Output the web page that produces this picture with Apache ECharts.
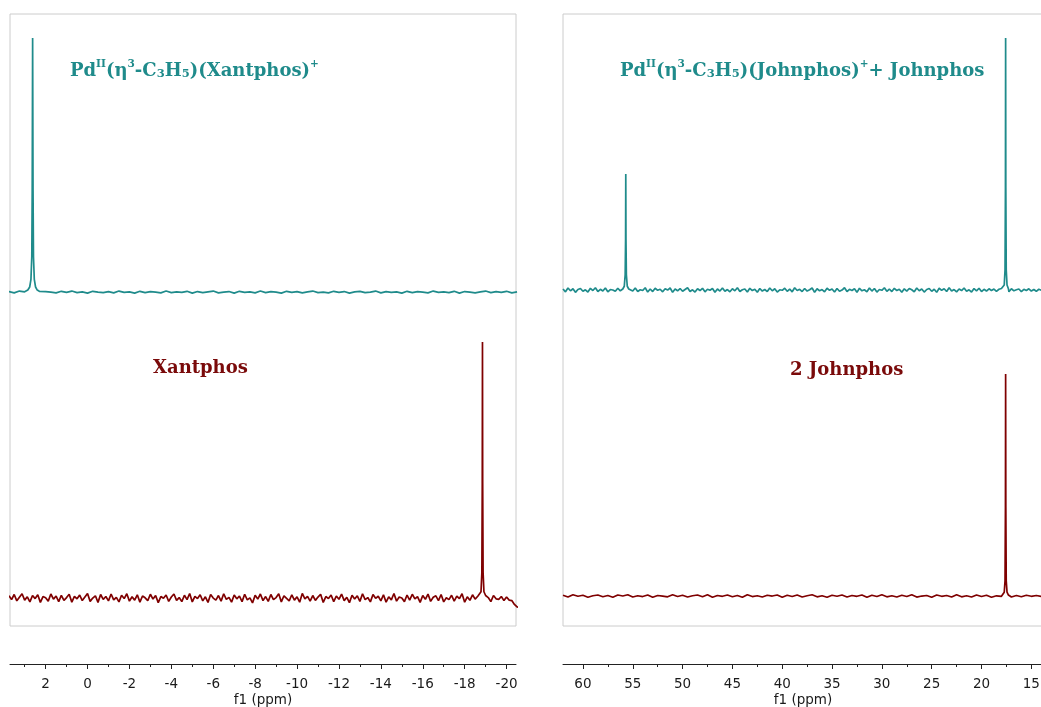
<!DOCTYPE html>
<html>
<head>
<meta charset="utf-8">
<script src="https://cdn.jsdelivr.net/npm/echarts@6/dist/echarts.min.js"></script>
<style>html,body{margin:0;padding:0;background:#fff}#c{width:1041px;height:707px}</style>
</head>
<body>
<div id="c"></div>
<script>
// ---------- data ----------
// left panel (Xantphos), ppm axis
const leftMajorTicks = [2, 0, -2, -4, -6, -8, -10, -12, -14, -16, -18, -20];
const leftMinorTicks = [3, 1, -1, -3, -5, -7, -9, -11, -13, -15, -17, -19];
// right panel (Johnphos), ppm axis
const rightMajorTicks = [60, 55, 50, 45, 40, 35, 30, 25, 20, 15];
const rightMinorTicks = [57.5, 52.5, 47.5, 42.5, 37.5, 32.5, 27.5, 22.5, 17.5];

// baseline sampling (ppm start) and read-off baseline noise values
const leftBaseStart = 3.75;
const rightBaseStart = 62.0;

const noiseTopLeft = [0.2,-0.3,0.4,0.1,-0.2,0.3,-0.4,0.2,0.0,-0.3,0.3,-0.1,0.4,-0.2,0.1,-0.4,0.3,0.0,-0.2,0.2,-0.3,0.4,-0.1,0.1,-0.4,0.3,-0.2,0.2,0.0,-0.3,0.4,-0.2,0.1,-0.1,0.3,-0.4,0.2,-0.2,0.1,0.4,-0.3,0.0,0.2,-0.4,0.3,-0.1,0.1,-0.3,0.4,-0.2,0.2,0.0,-0.4,0.3,-0.1,0.2,-0.3,0.1,0.4,-0.2,0.0,-0.3,0.3,-0.1,0.2,-0.4,0.1,0.3,-0.2,0.0,0.4,-0.3,0.2,-0.1,0.1,-0.4,0.3,-0.2,0.2,0.0,-0.3,0.4,-0.1,0.1,-0.2,0.3,-0.4,0.2,0.0,-0.3,0.1,0.4,-0.2,0.2,-0.1,0.3,-0.3,0.1];
const noiseBottomLeft = [0.9,-0.6,1.4,-1.1,0.3,1.7,-0.8,0.5,-1.5,1.0,-0.2,1.3,-1.7,0.6,0.1,-1.2,1.6,-0.4,0.8,-1.4,
1.1,-0.9,0.2,1.5,-1.6,0.7,-0.3,1.2,-1.0,0.4,1.8,-1.3,0.0,0.9,-1.7,1.4,-0.5,0.6,-1.1,1.6,
-0.7,0.3,-1.5,1.1,-0.2,1.7,-1.2,0.5,-0.8,1.3,-1.6,0.8,0.1,-1.0,1.5,-0.4,1.0,-1.8,0.6,-0.1,
1.2,-1.3,0.4,1.6,-0.9,0.2,-1.4,1.1,-0.6,1.8,-1.5,0.7,-0.2,1.3,-1.1,0.5,-1.7,1.4,0.0,-0.8,
1.0,-1.2,1.7,-0.5,0.3,-1.6,1.2,-0.3,0.8,-1.4,1.5,-0.7,0.1,-1.9,1.1,-0.4,1.6,-1.0,0.6,-1.3,
1.4,-0.6,0.2,1.7,-1.5,0.9,-0.1,-1.1,1.3,-0.8,0.5,-1.6,1.8,-0.3,0.7,-1.2,1.0,-0.9,0.4,1.5,
-1.7,0.6,-0.2,1.2,-1.4,0.8,-0.5,1.6,-1.0,0.3,-1.8,1.1,-0.4,0.9,-1.3,1.7,-0.6,0.2,-1.5,1.4,
-0.1,0.7,-1.1,1.3,-1.6,0.5,-0.7,1.8,-1.2,0.4,0.0,-1.4,1.2,-0.8,1.5,-0.3,0.6,-1.7,1.0,-0.5,
1.6,-1.3,0.3,0.9,-1.0,1.4,-1.5,0.1,-0.6,1.1,-1.2,0.8,-0.2,1.7,-1.6,0.5,-0.9,1.3,-0.4,0.7,
-1.1,1.5,-0.7,0.2,-1.4,1.0,-0.3,-0.5,0.6,-1.0,0.4,-0.8,-1.0,-2.5,-3.5,-3.6];
const noiseTopRight = [0.4,-0.7,0.8,-0.3,0.5,-0.9,0.2,0.6,-0.5,0.1,-0.8,0.7,-0.2,0.9,-0.6,0.3,-0.4,0.8,-0.7,0.2,
0.0,-0.5,0.7,-0.3,0.6,-0.9,0.3,0.5,-0.4,0.8,-0.6,0.1,-0.2,0.9,-0.8,0.4,-0.6,0.7,-0.1,0.3,
-0.7,0.5,0.0,0.8,-0.9,0.4,-0.3,0.6,-0.5,0.2,0.9,-0.6,0.1,-0.8,0.5,-0.2,0.7,-0.7,0.3,-0.1,
0.6,-0.9,0.4,-0.4,0.8,-0.5,0.2,-0.7,0.5,-0.3,0.9,-0.6,0.1,0.4,-0.8,0.7,-0.2,0.3,-0.9,0.6,
-0.4,0.2,-0.6,0.8,-0.3,0.5,-0.8,0.1,-0.1,0.7,-0.5,0.4,-0.7,0.9,-0.2,0.3,-0.6,0.6,-0.4,0.1,
0.8,-0.9,0.5,-0.3,0.2,-0.7,0.7,-0.1,0.4,-0.8,0.6,-0.5,0.0,0.9,-0.6,0.3,-0.2,0.5,-0.9,0.7,
-0.3,0.1,-0.7,0.8,-0.4,0.6,-0.8,0.2,-0.1,0.9,-0.5,0.4,-0.6,0.7,-0.2,0.3,-0.9,0.5,-0.4,0.6,
0.1,-0.7,0.8,-0.3,0.4,-0.8,0.2,0.6,-0.5,0.3,-0.9,0.7,-0.1,0.5,-0.6,0.9,-0.4,0.2,-0.7,0.4,
-0.2,0.8,-0.5,0.1,-0.8,0.6,-0.3,0.7,-0.6,0.3,-0.4,0.5,-0.2,0.4,-0.5,0.3,0.6,-0.4,0.2,-0.7,
0.5,-0.3,0.1,0.4,-0.6,0.3,-0.2,0.5,-0.4,0.2,-0.5,0.3,-0.1,0.4,-0.3,0.2,-0.4,0.1,0.3,-0.2];
const noiseBottomRight = [0.3,-0.4,0.5,-0.1,0.3,-0.5,0.1,0.4,-0.3,0.2,-0.5,0.4,0.0,0.5,-0.4,0.1,-0.2,0.4,-0.5,0.2,0.0,-0.3,0.5,-0.2,0.3,-0.4,0.1,0.4,-0.3,0.5,-0.5,0.2,-0.1,0.4,-0.3,0.2,-0.5,0.5,-0.2,0.1,-0.4,0.3,0.0,0.4,-0.5,0.3,-0.2,0.4,-0.4,0.1,0.5,-0.3,0.1,-0.5,0.3,-0.1,0.4,-0.4,0.2,-0.1,0.4,-0.5,0.3,-0.2,0.5,-0.3,0.1,-0.4,0.3,-0.2,0.5,-0.4,0.0,0.2,-0.5,0.4,-0.1,0.2,-0.4,0.5,-0.3,0.1,-0.4,0.4,-0.2,0.3,-0.5,0.1,-0.1,0.3,-0.4,0.2,-0.3,0.3,-0.1,0.2,-0.2,0.1];

// peaks [ppm, intensity]
const peakTopLeft = [[2.95,0.3],[2.85,0.8],[2.76,2],[2.70,5],[2.66,14],[2.64,40],[2.62,100],[2.60,40],[2.58,14],[2.54,5],[2.48,2],[2.40,0.8],[2.30,0.3]];
const peakBottomLeft = [[-18.70,0.8],[-18.78,2.5],[-18.82,10],[-18.84,45],[-18.85,100.8],[-18.86,45],[-18.88,10],[-18.92,2.5],[-19.00,1.0]];
const peakTopRight1 = [[56.0,0.4],[55.85,1.5],[55.76,6],[55.72,20],[55.70,45.7],[55.68,20],[55.64,6],[55.55,1.5],[55.4,0.4]];
const peakTopRight2 = [[17.9,0.5],[17.72,2],[17.64,8],[17.60,40],[17.58,99.2],[17.56,40],[17.52,8],[17.44,2],[17.3,0.5]];
const peakBottomRight = [[17.9,0.4],[17.72,1.5],[17.64,6],[17.60,35],[17.58,87.4],[17.56,35],[17.52,6],[17.44,1.5],[17.3,0.4]];

// ---------- build ----------
function buildTrace(start, step, noise, peaks) {
  const pts = [];
  noise.forEach((v, i) => {
    const x = +(start - i * step).toFixed(4);
    const inside = peaks.some(p => x <= p[0][0] && x >= p[p.length - 1][0]);
    if (!inside) pts.push([x, v]);
  });
  peaks.forEach(p => p.forEach(q => pts.push(q)));
  pts.sort((a, b) => b[0] - a[0]);
  return pts;
}
const trTL = buildTrace(leftBaseStart, 0.25, noiseTopLeft, [peakTopLeft]);
const trBL = buildTrace(leftBaseStart, 0.125, noiseBottomLeft, [peakBottomLeft]);
const trTR = buildTrace(rightBaseStart, 0.25, noiseTopRight, [peakTopRight1, peakTopRight2]);
const trBR = buildTrace(rightBaseStart, 0.5, noiseBottomRight, [peakBottomRight]);

const TEAL = '#1f8b8b';
const RED = '#7f0000';
const LMIN = -20.45, LMAX = 3.70;
const RMIN = 13.83, RMAX = 62.0;

const axisFont = {fontFamily: 'DejaVu Sans', fontSize: 13.5, color: '#1a1a1a'};
function visAxis(grid, min, max, major) {
  return {
    gridIndex: grid, type: 'value', min: min, max: max, inverse: true,
    position: 'bottom',
    axisLine: {show: true, onZero: false, lineStyle: {color: '#222', width: 1}},
    axisTick: {show: true, length: 5, customValues: major, lineStyle: {color: '#222'}},
    axisLabel: Object.assign({show: true, margin: 13, customValues: major}, axisFont),
    splitLine: {show: false},
    name: 'f1 (ppm)', nameLocation: 'middle', nameGap: 29,
    nameTextStyle: {fontFamily: 'DejaVu Sans', fontSize: 13.5, color: '#1a1a1a'}
  };
}
function minorAxis(grid, min, max, minor) {
  return {
    gridIndex: grid, type: 'value', min: min, max: max, inverse: true,
    position: 'bottom',
    axisLine: {show: false, onZero: false},
    axisTick: {show: true, length: 3, customValues: minor, lineStyle: {color: '#222'}},
    axisLabel: {show: false},
    splitLine: {show: false}
  };
}
function hiddenX(grid, min, max) {
  return {gridIndex: grid, type: 'value', min: min, max: max, inverse: true, show: false};
}
function hiddenY(grid, min, max) {
  return {gridIndex: grid, type: 'value', min: min, max: max, show: false};
}
function line(xi, yi, data, color) {
  return {type: 'line', xAxisIndex: xi, yAxisIndex: yi, data: data, showSymbol: false,
    symbol: 'none', lineStyle: {color: color, width: 1.7}, silent: true, z: 3};
}
function g(left, top, width, height, extra) {
  return Object.assign({left: left, top: top, width: width, height: height, outerBoundsMode: 'none', containLabel: false}, extra || {});
}

const serif = '"DejaVu Serif",serif';
function rich(col) {
  return {
    b: {fontFamily: serif, fontWeight: 'bold', fontSize: 18, fill: col, lineHeight: 26, verticalAlign: 'bottom'},
    sup: {fontFamily: serif, fontWeight: 'bold', fontSize: 10.5, fill: col, lineHeight: 26, verticalAlign: 'top', padding: [5, 0, 0, 0]},
    sub: {fontFamily: serif, fontWeight: 'bold', fontSize: 11.5, fill: col, lineHeight: 26, verticalAlign: 'bottom'}
  };
}

const chart = echarts.init(document.getElementById('c'), null, {renderer: 'canvas'});
chart.setOption({
  animation: false,
  backgroundColor: '#fff',
  grid: [
    g(10, 14, 506, 612, {show: true, borderColor: '#cccccc', borderWidth: 1, backgroundColor: 'transparent'}),
    g(563, 14, 480, 612, {show: true, borderColor: '#cccccc', borderWidth: 1, backgroundColor: 'transparent'}),
    g(10, 14, 506, 306),
    g(10, 320, 506, 306),
    g(563, 14, 480, 306),
    g(563, 320, 480, 306),
    g(10, 663, 506, 1),
    g(563, 663, 480, 1)
  ],
  xAxis: [
    hiddenX(0, LMIN, LMAX),
    hiddenX(1, RMIN, RMAX),
    hiddenX(2, LMIN, LMAX),
    hiddenX(3, LMIN, LMAX),
    hiddenX(4, RMIN, RMAX),
    hiddenX(5, RMIN, RMAX),
    visAxis(6, LMIN, LMAX, leftMajorTicks),
    minorAxis(6, LMIN, LMAX, leftMinorTicks),
    visAxis(7, RMIN, RMAX, rightMajorTicks),
    minorAxis(7, RMIN, RMAX, rightMinorTicks)
  ],
  yAxis: [
    hiddenY(0, 0, 1),
    hiddenY(1, 0, 1),
    hiddenY(2, -11, 109.5),
    hiddenY(3, -11, 109.5),
    hiddenY(4, -11.8, 108.7),
    hiddenY(5, -11.8, 108.7),
    hiddenY(6, 0, 1),
    hiddenY(7, 0, 1)
  ],
  series: [
    line(2, 2, trTL, TEAL),
    line(3, 3, trBL, RED),
    line(4, 4, trTR, TEAL),
    line(5, 5, trBR, RED)
  ],
  graphic: [
    {type: 'text', left: 70, top: 54, z: 10, style: {
      text: '{b|Pd}{sup|II}{b|(η}{sup|3}{b|-C}{sub|3}{b|H}{sub|5}{b|)(Xantphos)}{sup|+}', rich: rich(TEAL)}},
    {type: 'text', left: 620, top: 54, z: 10, style: {
      text: '{b|Pd}{sup|II}{b|(η}{sup|3}{b|-C}{sub|3}{b|H}{sub|5}{b|)(Johnphos)}{sup|+}{b|+ Johnphos}', rich: rich(TEAL)}},
    {type: 'text', left: 153, top: 359, z: 10, style: {text: '{b|Xantphos}', rich: rich('#7a0a0a')}},
    {type: 'text', left: 790, top: 361, z: 10, style: {text: '{b|2 Johnphos}', rich: rich('#7a0a0a')}}
  ]
});
</script>
</body>
</html>
